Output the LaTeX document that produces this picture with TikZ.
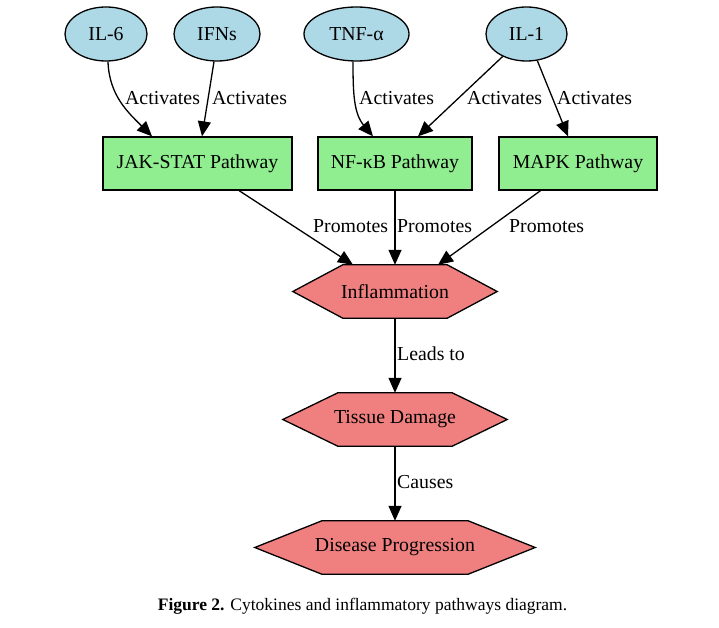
\documentclass[tikz,border=0pt]{standalone}
\usepackage{fontspec}
\setmainfont{Liberation Serif}
\usetikzlibrary{shapes.geometric,arrows.meta,calc,backgrounds}
\definecolor{lblue}{HTML}{ADD8E6}
\definecolor{lgreen}{HTML}{90EE90}
\definecolor{lcoral}{HTML}{F08080}
\begin{document}
\begin{tikzpicture}[x=1pt,y=-1pt,
  font=\fontsize{19.8}{23}\selectfont,
  cyto/.style={ellipse, draw, fill=lblue, line width=1.3pt, minimum width=#1, minimum height=54pt, inner sep=0pt},
  pathbox/.style={rectangle, draw, fill=lgreen, line width=1.3pt, minimum width=#1, minimum height=53pt, inner sep=0pt},
  hexnode/.style={rectangle, minimum width=#1, minimum height=53pt, inner sep=0pt},
  hexfill/.style={draw, fill=lcoral, line width=1.3pt, line join=miter},
  arr/.style={-{Triangle[length=15pt,width=13pt]}, line width=1.3pt},
  lbl/.style={anchor=west, inner sep=0pt}]
\useasboundingbox (0,0) rectangle (719,628);
% nodes
\node[cyto=82pt]  (il6) at (106,34)   {IL-6};
\node[cyto=86pt]  (ifn) at (217,34)   {IFNs};
\node[cyto=105pt] (tnf) at (356.5,34) {TNF-α};
\node[cyto=81pt]  (il1) at (526.5,34) {IL-1};
\node[pathbox=189pt] (jak)  at (197.5,163.5) {JAK-STAT Pathway};
\node[pathbox=154pt] (nfkb) at (395,163.5)   {NF-κB Pathway};
\node[pathbox=158pt] (mapk) at (578,163.5)   {MAPK Pathway};
\node[hexnode=204pt] (infl) at (395,291.5) {Inflammation};
\node[hexnode=224pt] (tis)  at (395,419.5) {Tissue Damage};
\node[hexnode=280pt] (dis)  at (395,547.5) {Disease Progression};
\begin{scope}[on background layer]
  \fill[white] (0,0) rectangle (719,628);
  \foreach \n/\d in {infl/50,tis/55,dis/67}
    \draw[hexfill] (\n.west) -- ($(\n.north west)+(\d,0)$) -- ($(\n.north east)+(-\d,0)$)
      -- (\n.east) -- ($(\n.south east)+(-\d,0)$) -- ($(\n.south west)+(\d,0)$) -- cycle;
\end{scope}
% connectors
\draw[arr] ($(il6.south)+(2,0)$) to[out=-88,in=135] ($(jak.north)+(-45.5,0)$);
\draw[arr] ($(ifn.south)+(-3,0)$) -- ($(jak.north)+(4.5,0)$);
\draw[arr] ($(tnf.south)+(-3.5,0)$) to[out=-90,in=130] ($(nfkb.north)+(-22,0)$);
\draw[arr] (il1) -- ($(nfkb.north)+(23,0)$);
\draw[arr] (il1) -- ($(mapk.north)+(-10,0)$);
\draw[arr] (jak) -- ($(infl.north)+(-42,0)$);
\draw[arr] (nfkb) -- (infl);
\draw[arr] (mapk) -- ($(infl.north)+(43,0)$);
\draw[arr] (infl) -- (tis);
\draw[arr] (tis) -- (dis);
% labels
\node[lbl] (la1) at (125,98) {Activates};
\node[lbl] (la2) at (212,98) {Activates};
\node[lbl] (la3) at (359,98) {Activates};
\node[lbl] (la4) at (467,98) {Activates};
\node[lbl] (la5) at (557,98) {Activates};
\node[lbl] (lp1) at (313,226) {Promotes};
\node[lbl] (lp2) at (397,226) {Promotes};
\node[lbl] (lp3) at (509,226) {Promotes};
\node[lbl] (ll)  at (397,354) {Leads to};
\node[lbl] (lc)  at (397,482) {Causes};
% caption
\node[font=\fontsize{17.5}{20}\selectfont, inner sep=0pt] (cap) at (362.5,606)
  {\textbf{Figure 2.} Cytokines and inflammatory pathways diagram.};
\end{tikzpicture}
\end{document}
